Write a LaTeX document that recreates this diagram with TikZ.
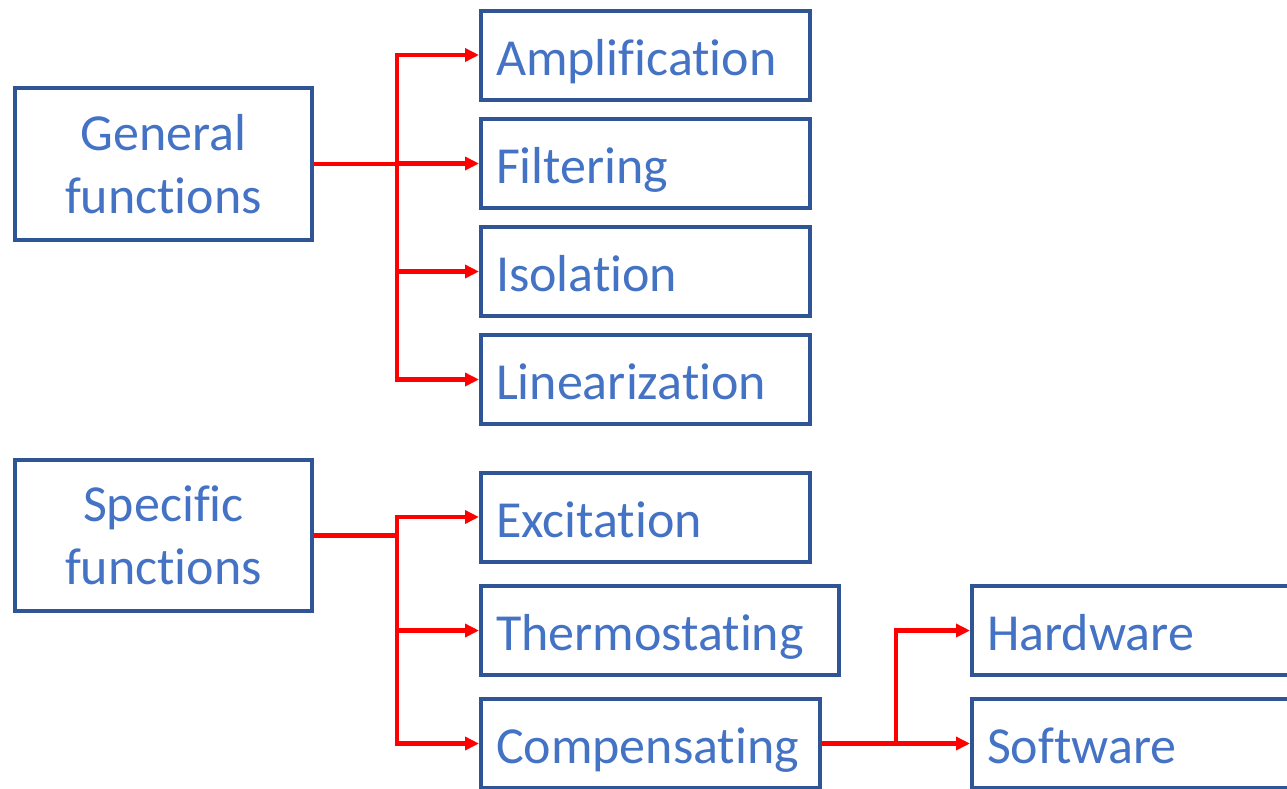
\documentclass[tikz,border=0pt]{standalone}
\usepackage{fontspec}
\setmainfont{Carlito}[Ligatures={NoCommon}]
\usetikzlibrary{arrows.meta}
\definecolor{boxblue}{HTML}{2F5597}
\definecolor{txtblue}{HTML}{4472C4}
\definecolor{connred}{HTML}{FF0000}
\begin{document}
\begin{tikzpicture}[x=1pt,y=-1pt,
  box/.style={draw=boxblue, line width=4pt, text=txtblue, rectangle,
    font=\fontsize{52}{63}\selectfont, inner sep=0pt},
  lbox/.style={box, minimum width=297pt, minimum height=152pt, align=center},
  rbox/.style={box, minimum height=89pt, align=left, inner xsep=15pt,
    text height=46.8pt, text depth=6.8pt},
  redline/.style={draw=connred, line width=4.5pt},
  redarrow/.style={redline, -{Triangle[length=14pt,width=13pt]}}]
\useasboundingbox (0,0) rectangle (1287,788);
\clip (0,0) rectangle (1287,788);
% top group
\node[lbox] (gen) at (163.5,164) {General\\functions};
\node[rbox, text width=299pt] (amp) at (645.5,55) {Amplification};
\node[rbox, text width=299pt] (fil) at (645.5,163.5) {Filtering};
\node[rbox, text width=299pt] (iso) at (645.5,271.5) {Isolation};
\node[rbox, text width=299pt] (lin) at (645.5,379.5) {Linearization};
% bottom group
\node[lbox, minimum height=151pt] (spe) at (163.5,535.5) {Specific\\functions};
\node[rbox, text width=299pt] (exc) at (645.5,517) {Excitation};
\node[rbox, text width=328pt] (the) at (660,630.5) {Thermostating};
\node[rbox, text width=309pt] (com) at (650.5,743.5) {Compensating};
\node[rbox, text width=298pt] (har) at (1136,630.5) {Hardware};
\node[rbox, text width=298pt] (sof) at (1136,743.5) {Software};
% trunk positions
\coordinate (t1) at (397,0);
\coordinate (t2) at (896,0);
% general connectors
\draw[redline] (gen.east) -- (gen.east -| t1);
\draw[redarrow] (t1 |- lin.west) |- (amp.west);
\draw[redarrow] (t1 |- amp.west) |- (lin.west);
\draw[redarrow] (t1 |- fil.west) -- (fil.west);
\draw[redarrow] (t1 |- iso.west) -- (iso.west);
% specific connectors
\draw[redline] (spe.east) -- (spe.east -| t1);
\draw[redarrow] (t1 |- com.west) |- (exc.west);
\draw[redarrow] (t1 |- exc.west) |- (com.west);
\draw[redarrow] (t1 |- the.west) -- (the.west);
% compensating connectors
\draw[redline] (com.east) -- (com.east -| t2);
\draw[redarrow] (t2 |- sof.west) |- (har.west);
\draw[redarrow] (t2 |- har.west) |- (sof.west);
\end{tikzpicture}
\end{document}
